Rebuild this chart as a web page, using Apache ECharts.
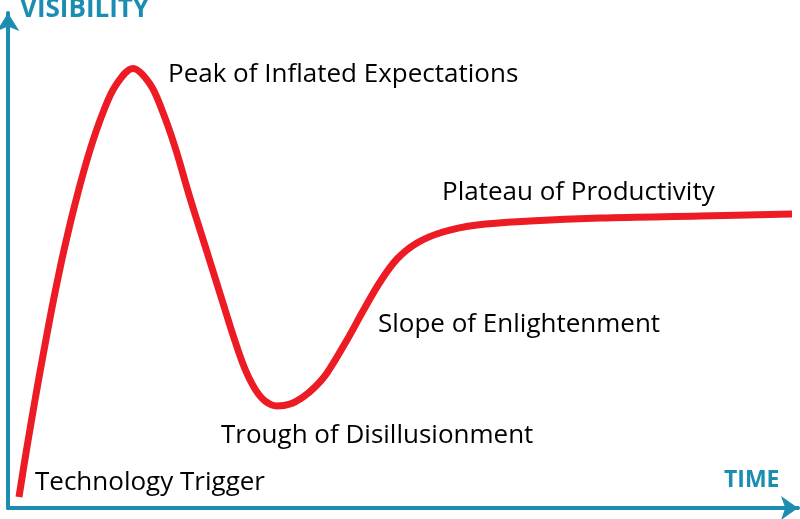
<!DOCTYPE html>
<html>
<head>
<meta charset="utf-8">
<script src="https://cdn.jsdelivr.net/npm/echarts@6/dist/echarts.min.js"></script>
<style>html,body{margin:0;padding:0;background:#fff}#c{width:800px;height:519px}</style>
</head>
<body>
<div id="c"></div>
<script>
// Hype cycle curve: time (0-100) vs visibility (0-100)
var timeValues = [1.39,2.34,3.42,4.56,5.76,7.09,8.61,10.38,12.15,13.67,15.82,17.97,19.49,21.14,23.04,25.19,27.09,28.73,30.00,31.27,32.53,34.05,35.70,37.34,38.86,40.38,42.91,44.94,47.09,49.24,51.77,55.06,59.37,66.08,74.94,87.59,99.24];
var visibilityValues = [2.22,11.72,21.82,31.92,42.02,52.12,62.22,72.32,80.40,85.45,88.79,85.66,80.40,72.93,62.63,51.72,42.02,33.74,28.08,24.04,21.62,20.61,21.01,22.42,24.44,27.27,33.94,39.80,45.66,50.30,53.54,55.76,57.17,57.98,58.59,58.99,59.39];
var phaseLabels = ['Peak of Inflated Expectations','Plateau of Productivity','Slope of Enlightenment','Trough of Disillusionment','Technology Trigger'];
var axisTitles = ['TIME','VISIBILITY'];

var teal = '#1b8db0';
var chart = echarts.init(document.getElementById('c'), null, {renderer:'canvas'});
var curve = timeValues.map(function(t,i){return [t, visibilityValues[i]];});
var font = '"Open Sans", sans-serif';
function label(text, x, y) {
  return {type:'text', left:x, top:y, style:{text:text, font:'26px ' + font, fill:'#000'}};
}
chart.setOption({
  animation:false,
  grid:{left:8, right:2, top:13, bottom:11},
  xAxis:{type:'value', min:0, max:100, axisLine:{show:true, symbol:['none','arrow'], symbolSize:[18,17], lineStyle:{color:teal, width:4}}, axisTick:{show:false}, axisLabel:{show:false}, splitLine:{show:false}},
  yAxis:{type:'value', min:0, max:100, axisLine:{show:true, symbol:['none','arrow'], symbolSize:[17,18], lineStyle:{color:teal, width:4}}, axisTick:{show:false}, axisLabel:{show:false}, splitLine:{show:false}},
  series:[{type:'line', data:curve, smooth:0.35, showSymbol:false, lineStyle:{color:'#ed1c24', width:7, cap:'butt'}}],
  graphic:[
    {type:'text', left:20, top:-3, style:{text:axisTitles[1], font:'bold 26px ' + font, fill:teal}},
    {type:'text', left:724, top:469, style:{text:axisTitles[0], font:'bold 23px ' + font, fill:teal}},
    label(phaseLabels[0], 168, 62),
    label(phaseLabels[1], 442, 180),
    label(phaseLabels[2], 378, 312),
    label(phaseLabels[3], 221, 423),
    label(phaseLabels[4], 35, 470)
  ]
});
</script>
</body>
</html>
